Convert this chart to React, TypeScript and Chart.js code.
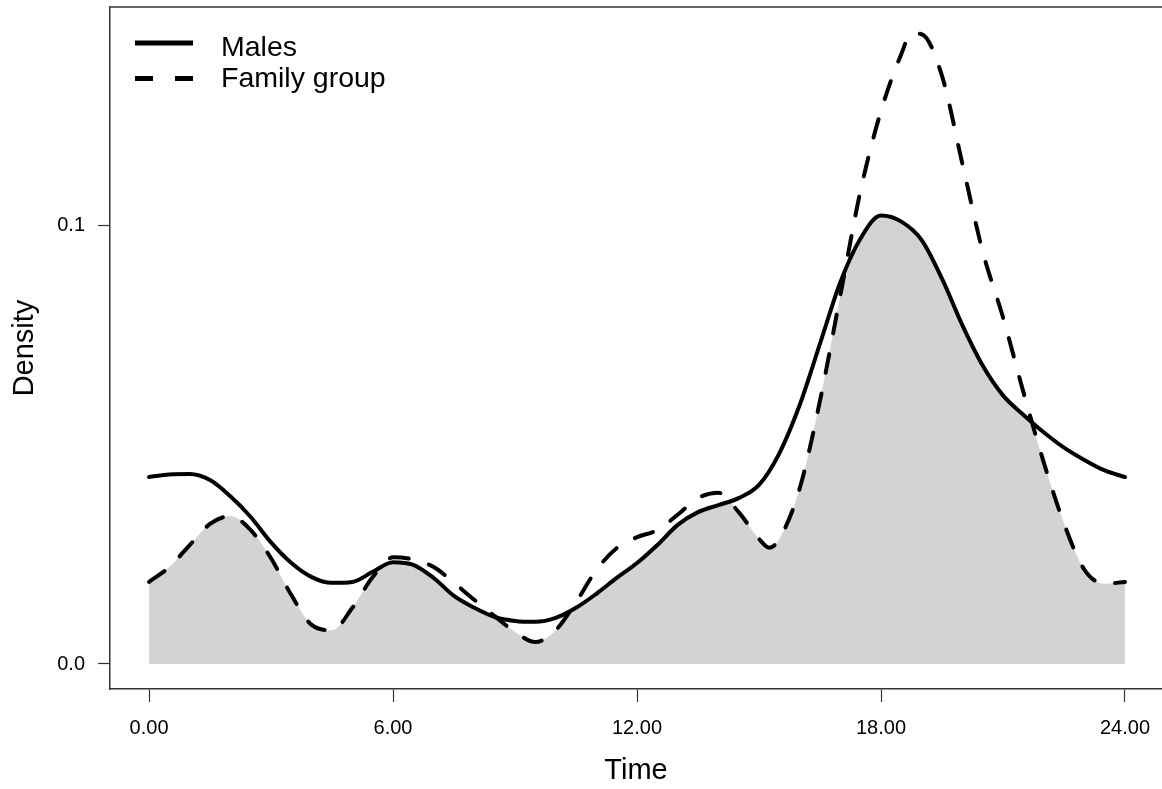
import React, { useEffect, useRef } from "react";
import { Chart, registerables } from "chart.js";

Chart.register(...registerables);

// ---- data ----
const malesHours = [
  0, 0.5, 1, 1.5, 2, 2.5, 3, 3.5, 4, 4.5, 5, 5.5, 6, 6.5, 7, 7.5, 8, 8.5, 9, 9.5,
  10, 10.5, 11, 11.5, 12, 12.5, 13, 13.5, 14, 14.5, 15, 15.5, 16, 16.5, 17,
  17.5, 18, 18.5, 19, 19.5, 20, 20.5, 21, 21.5, 22, 22.5, 23, 23.5, 24,
];

const malesDensity = [
  0.0426, 0.0432, 0.0433, 0.0419, 0.0382, 0.0335, 0.0277, 0.023, 0.0198, 0.0185,
  0.0187, 0.021, 0.0232, 0.0226, 0.0196, 0.0155, 0.0128, 0.0107, 0.0098, 0.0096,
  0.0105, 0.0128, 0.016, 0.0196, 0.023, 0.0271, 0.0317, 0.0346, 0.0362, 0.0378,
  0.0408, 0.048, 0.059, 0.073, 0.087, 0.097, 0.1022, 0.1008,
  0.0966, 0.0878, 0.0772, 0.068, 0.0612, 0.0568, 0.0528, 0.0493, 0.0465, 0.0441, 0.0426,
];

const familyHours = [
  0, 0.5, 1, 1.5, 2, 2.5, 3, 3.5, 4, 4.5, 5, 5.5, 6, 6.5, 7, 7.5, 8, 8.5, 9, 9.5,
  10, 10.5, 11, 11.5, 12, 12.5, 13, 13.5, 14, 14.5, 15, 15.25, 15.5, 16, 16.5, 17,
  17.5, 18, 18.5, 18.75, 19, 19.5, 20, 20.5, 21, 21.5, 22, 22.5, 23, 23.5, 24,
];

const familyDensity = [
  0.0187, 0.0221, 0.0271, 0.0319, 0.0337, 0.0305, 0.0241, 0.0157, 0.0089, 0.0077,
  0.0128, 0.0198, 0.0243, 0.0238, 0.0221, 0.0185, 0.0146, 0.0109, 0.0073, 0.005,
  0.0077, 0.0141, 0.0214, 0.0264, 0.0289, 0.0305, 0.034, 0.0378, 0.039, 0.0346,
  0.0285, 0.0265, 0.0285, 0.04, 0.06, 0.084, 0.108, 0.126, 0.139, 0.1437,
  0.1435, 0.134, 0.114, 0.094, 0.079, 0.062, 0.046, 0.032, 0.0215, 0.0183, 0.0187,
];

const seriesLabels = ["Males", "Family group"];
const xTickValues = [0, 6, 12, 18, 24];
const xTickLabels = ["0.00", "6.00", "12.00", "18.00", "24.00"];
const yTickValues = [0, 0.1];
const yTickLabels = ["0.0", "0.1"];
const xTitle = "Time";
const yTitle = "Density";

// ---- styling ----
const FONT = "'Liberation Sans', Arial, Helvetica, sans-serif";
const AXIS_COLOR = "#333333";
const FILL_COLOR = "#d3d3d3";
const CURVE_DASH = [19, 21];

function tracePath(ctx: CanvasRenderingContext2D, line: any) {
  if (typeof line.path === "function") {
    line.path(ctx);
    return;
  }
  const pts = line.points || [];
  pts.forEach((p: any, i: number) => (i === 0 ? ctx.moveTo(p.x, p.y) : ctx.lineTo(p.x, p.y)));
}

// gray area under both curves (their overlap), using the lines' own curves
const overlapFillPlugin = {
  id: "overlapFill",
  beforeDatasetsDraw(chart: any) {
    const a = chart.getDatasetMeta(0).dataset;
    const b = chart.getDatasetMeta(1).dataset;
    if (!a || !b) return;
    const area = chart.chartArea;
    if (a.updateControlPoints) a.updateControlPoints(area, "x");
    if (b.updateControlPoints) b.updateControlPoints(area, "x");
    const y0 = chart.scales.y.getPixelForValue(0);
    const ctx = chart.ctx as CanvasRenderingContext2D;
    const pa = a.points;
    const pb = b.points;
    ctx.save();
    ctx.beginPath();
    ctx.rect(area.left, area.top, area.right - area.left, area.bottom - area.top);
    ctx.clip();
    ctx.beginPath();
    tracePath(ctx, a);
    ctx.lineTo(pa[pa.length - 1].x, y0);
    ctx.lineTo(pa[0].x, y0);
    ctx.closePath();
    ctx.clip();
    ctx.beginPath();
    tracePath(ctx, b);
    ctx.lineTo(pb[pb.length - 1].x, y0);
    ctx.lineTo(pb[0].x, y0);
    ctx.closePath();
    ctx.fillStyle = FILL_COLOR;
    ctx.fill();
    ctx.restore();
  },
};

// top frame line (R-style box)
const frameTopPlugin = {
  id: "frameTop",
  afterDraw(chart: any) {
    const { ctx, chartArea } = chart;
    ctx.save();
    ctx.strokeStyle = AXIS_COLOR;
    ctx.lineWidth = 1.5;
    ctx.beginPath();
    ctx.moveTo(chartArea.left, chartArea.top);
    ctx.lineTo(chartArea.right, chartArea.top);
    ctx.stroke();
    ctx.restore();
  },
};

// legend drawn in the top-left corner of the plot area
const legendPlugin = {
  id: "rLegend",
  afterDraw(chart: any) {
    const { ctx, chartArea } = chart;
    const rows = [
      { label: chart.data.datasets[0].label, dash: [] as number[], lineY: 36, textY: 48.5 },
      { label: chart.data.datasets[1].label, dash: [18, 22], lineY: 71.5, textY: 80 },
    ];
    ctx.save();
    rows.forEach((r) => {
      const y = chartArea.top + r.lineY;
      ctx.beginPath();
      ctx.setLineDash(r.dash);
      ctx.lineCap = "butt";
      ctx.lineWidth = 5;
      ctx.strokeStyle = "#000";
      ctx.moveTo(chartArea.left + 25, y);
      ctx.lineTo(chartArea.left + 83, y);
      ctx.stroke();
      ctx.setLineDash([]);
      ctx.fillStyle = "#000";
      ctx.font = `28.5px ${FONT}`;
      ctx.textBaseline = "alphabetic";
      ctx.textAlign = "left";
      ctx.fillText(r.label, chartArea.left + 111, chartArea.top + r.textY);
    });
    ctx.restore();
  },
};

export default function App() {
  const canvasRef = useRef<HTMLCanvasElement | null>(null);

  useEffect(() => {
    const canvas = canvasRef.current;
    if (!canvas) return;

    const malesPoints = malesHours.map((h, i) => ({ x: h, y: malesDensity[i] }));
    const familyPoints = familyHours.map((h, i) => ({ x: h, y: familyDensity[i] }));

    const chart = new Chart(canvas, {
      type: "line",
      data: {
        datasets: [
          {
            label: seriesLabels[0],
            data: malesPoints,
            borderColor: "#000",
            borderWidth: 4,
            pointRadius: 0,
            pointHoverRadius: 0,
            cubicInterpolationMode: "monotone",
            fill: false,
            borderCapStyle: "round",
            borderJoinStyle: "round",
          },
          {
            label: seriesLabels[1],
            data: familyPoints,
            borderColor: "#000",
            borderWidth: 4,
            borderDash: CURVE_DASH,
            pointRadius: 0,
            pointHoverRadius: 0,
            cubicInterpolationMode: "monotone",
            fill: false,
            borderCapStyle: "round",
            borderJoinStyle: "round",
          },
        ],
      },
      options: {
        animation: false,
        responsive: false,
        devicePixelRatio: 1,
        layout: { padding: { top: 7, left: 0, right: 0, bottom: 0 } },
        plugins: {
          legend: { display: false },
          tooltip: { enabled: false },
        },
        events: [],
        scales: {
          x: {
            type: "linear",
            min: -0.96,
            max: 24.91,
            afterBuildTicks: (s: any) => {
              s.ticks = xTickValues.map((v) => ({ value: v }));
            },
            afterFit: (s: any) => {
              s.height = 100;
              s.paddingLeft = 0;
              s.paddingRight = 0;
              s.paddingTop = 0;
              s.paddingBottom = 0;
            },
            ticks: {
              autoSkip: false,
              maxRotation: 0,
              padding: 14,
              color: "#000",
              font: { family: FONT, size: 20 },
              callback: (v: any) => {
                const i = xTickValues.indexOf(Number(v));
                return i >= 0 ? xTickLabels[i] : "";
              },
            },
            grid: {
              display: true,
              drawOnChartArea: false,
              drawTicks: true,
              tickLength: 13,
              tickColor: AXIS_COLOR,
              tickWidth: 1.2,
            },
            border: { display: true, color: AXIS_COLOR, width: 1.5 },
            title: {
              display: true,
              text: xTitle,
              color: "#000",
              font: { family: FONT, size: 29 },
              padding: { top: 0, bottom: 1 },
            },
          },
          y: {
            type: "linear",
            min: -0.0057,
            max: 0.1497,
            afterBuildTicks: (s: any) => {
              s.ticks = yTickValues.map((v) => ({ value: v }));
            },
            afterFit: (s: any) => {
              s.width = 110;
              s.paddingLeft = 0;
              s.paddingRight = 0;
              s.paddingTop = 0;
              s.paddingBottom = 0;
            },
            ticks: {
              autoSkip: false,
              padding: 13,
              color: "#000",
              font: { family: FONT, size: 20 },
              callback: (v: any) => {
                const i = yTickValues.indexOf(Number(v));
                return i >= 0 ? yTickLabels[i] : "";
              },
            },
            grid: {
              display: true,
              drawOnChartArea: false,
              drawTicks: true,
              tickLength: 12,
              tickColor: AXIS_COLOR,
              tickWidth: 1.2,
            },
            border: { display: true, color: AXIS_COLOR, width: 1.5 },
            title: {
              display: true,
              text: yTitle,
              color: "#000",
              font: { family: FONT, size: 29 },
              padding: { top: 7.6, bottom: 0 },
            },
          },
        },
      },
      plugins: [overlapFillPlugin, frameTopPlugin, legendPlugin],
    } as any);

    return () => {
      chart.destroy();
    };
  }, []);

  return (
    <div
      style={{
        position: "absolute",
        left: 0,
        top: 0,
        width: 1162,
        height: 789,
        background: "#fff",
        overflow: "hidden",
      }}
    >
      <canvas ref={canvasRef} width={1162} height={789} style={{ display: "block" }} />
    </div>
  );
}
